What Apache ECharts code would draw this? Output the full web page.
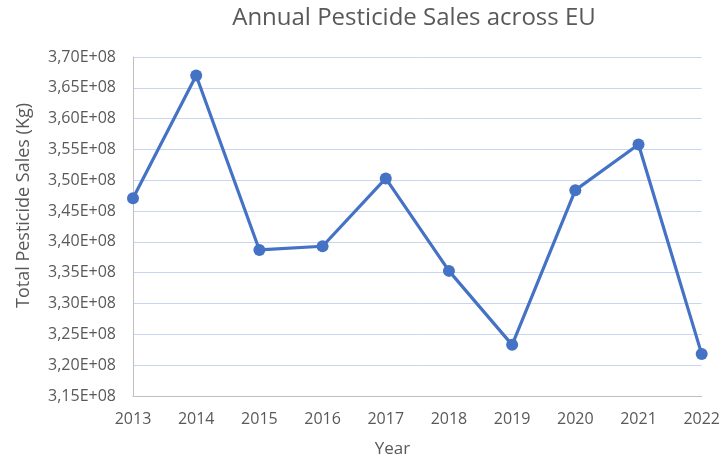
<!DOCTYPE html>
<html>
<head>
<meta charset="utf-8">
<script src="https://cdn.jsdelivr.net/npm/echarts@6/dist/echarts.min.js"></script>
<style>
  html, body { margin: 0; padding: 0; background: #fff; }
  #chart { width: 723px; height: 463px; }
</style>
</head>
<body>
<div id="chart"></div>
<script>
// Yearly total pesticide sales across the EU, in kilograms
const years = ['2013', '2014', '2015', '2016', '2017', '2018', '2019', '2020', '2021', '2022'];
const sales = [3.471e8, 3.670e8, 3.387e8, 3.393e8, 3.503e8, 3.353e8, 3.233e8, 3.484e8, 3.558e8, 3.218e8];

const yMin = 3.15e8;
const yMax = 3.70e8;
const yStep = 0.05e8;

// Spreadsheet-style scientific notation with a decimal comma, e.g. 3,45E+08
function sci(v) {
  const exp = Math.floor(Math.log10(Math.abs(v)));
  const mant = (v / Math.pow(10, exp)).toFixed(2).replace('.', ',');
  const e = String(exp).padStart(2, '0');
  return mant + 'E+' + e;
}

const textColor = '#595959';
const font = '"Open Sans", "Noto Sans", sans-serif';

const chart = echarts.init(document.getElementById('chart'));
chart.setOption({
  animation: false,
  backgroundColor: '#ffffff',
  title: {
    text: 'Annual Pesticide Sales across EU',
    left: 409,
    textAlign: 'center',
    top: 1,
    textStyle: { color: textColor, fontSize: 24, fontWeight: 'normal', fontFamily: font }
  },
  grid: { left: 133, right: 20, top: 57, bottom: 67 },
  xAxis: {
    type: 'category',
    data: years,
    boundaryGap: false,
    name: 'Year',
    nameLocation: 'middle',
    nameGap: 45,
    nameTextStyle: { color: textColor, fontSize: 17, fontFamily: font, padding: [0, 50, 0, 0] },
    axisLine: { lineStyle: { color: '#bfbfbf', width: 1 } },
    axisTick: { show: false },
    axisLabel: { color: textColor, fontSize: 16, fontFamily: font, margin: 15 },
    splitLine: { show: false }
  },
  yAxis: {
    type: 'value',
    min: yMin,
    max: yMax,
    interval: yStep,
    name: 'Total Pesticide Sales (Kg)',
    nameLocation: 'middle',
    nameGap: 100,
    nameTextStyle: { color: textColor, fontSize: 18, fontFamily: font, padding: [0, 0, 0, 42] },
    axisLine: { show: true, lineStyle: { color: '#bfbfbf', width: 1 } },
    axisTick: { show: false },
    axisLabel: { color: textColor, fontSize: 16, fontFamily: font, margin: 17, formatter: sci },
    splitLine: { show: true, lineStyle: { color: '#c9d6ef', width: 1 } }
  },
  series: [{
    type: 'line',
    data: sales,
    symbol: 'circle',
    symbolSize: 12,
    lineStyle: { color: '#4472c4', width: 3.2 },
    itemStyle: { color: '#4472c4' },
    z: 3
  }]
});
</script>
</body>
</html>
